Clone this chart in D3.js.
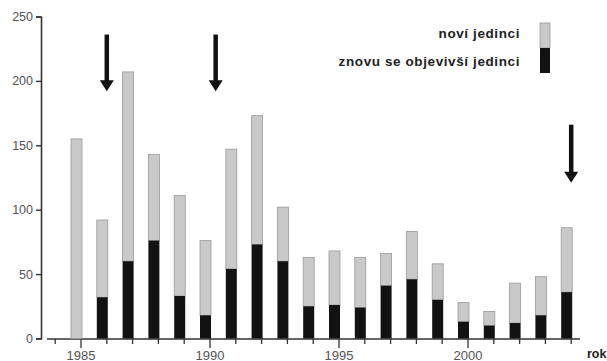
<!DOCTYPE html>
<html>
<head>
<meta charset="utf-8">
<script src="https://cdn.jsdelivr.net/npm/d3@7"></script>
<style>
  body { margin: 0; background: #fff; }
  svg { font-family: "Liberation Sans", Arial, sans-serif; }
</style>
</head>
<body>
<div id="chart"></div>
<script>
/**
 * DATA
 * */
const years = d3.range(1985, 2005);
// total height of each bar (new + returning)
const totals = [155, 92, 207, 143, 111, 76, 147, 173, 102, 63, 68, 63, 66, 83, 58, 28, 21, 43, 48, 86];
// returning individuals (black part)
const returning = [0, 32, 60, 76, 33, 18, 54, 73, 60, 25, 26, 24, 41, 46, 30, 13, 10, 12, 18, 36];
const yTicks = [0, 50, 100, 150, 200, 250];
const xTickLabels = [1985, 1990, 1995, 2000];
const legendLabels = ["noví jedinci", "znovu se objevivší jedinci"];
const axisTitle = "rok";
// arrows: year, start value, tip value
const arrows = [
  { year: 1986, from: 236, to: 192 },
  { year: 1990.22, from: 236, to: 192 },
  { year: 2004, from: 166, to: 121 }
];

const width = 607, height = 361;
const colors = { fresh: "#c9c9c9", back: "#121212", text: "#555" };

const svg = d3.select("#chart").append("svg")
  .attr("width", width)
  .attr("height", height);

const x = d3.scaleLinear().domain([1984, 2004]).range([55.2, 571.2]);
const y = d3.scaleLinear().domain([0, 250]).range([338.5, 16.5]);

// y axis
const yAxis = svg.append("g")
  .attr("transform", "translate(41,0)")
  .call(d3.axisLeft(y).tickValues(yTicks).tickSize(5).tickPadding(3));
yAxis.select(".domain").attr("stroke", "#333").attr("stroke-width", 1.6);
yAxis.selectAll(".tick line").attr("stroke", "#333").attr("stroke-width", 1.4);
yAxis.selectAll(".tick text").attr("fill", colors.text).attr("font-size", 12.5);

// x axis: minor ticks each year, longer ones every 5 years
const xg = svg.append("g").attr("transform", "translate(0,339)");
xg.append("line")
  .attr("x1", 47).attr("x2", 580)
  .attr("stroke", "#333").attr("stroke-width", 1.6);
xg.selectAll("line.tk")
  .data(d3.range(1984, 2005))
  .join("line")
  .attr("class", "tk")
  .attr("x1", d => x(d)).attr("x2", d => x(d))
  .attr("y1", 0)
  .attr("y2", d => d % 5 === 0 ? 9 : 5)
  .attr("stroke", "#333").attr("stroke-width", 1.3);
xg.selectAll("text")
  .data(xTickLabels)
  .join("text")
  .attr("x", d => x(d))
  .attr("y", 20.5)
  .attr("text-anchor", "middle")
  .attr("font-size", 13)
  .attr("fill", colors.text)
  .text(d => d);

svg.append("text")
  .attr("x", 587).attr("y", 358)
  .attr("font-size", 12.5).attr("font-weight", "bold")
  .attr("fill", "#222")
  .text(axisTitle);

// bars
const rows = years.map((yr, i) => ({ year: yr, total: totals[i], back: returning[i] }));
const barW = 11;

svg.selectAll("rect.fresh")
  .data(rows)
  .join("rect")
  .attr("class", "fresh")
  .attr("x", d => x(d.year) - 10)
  .attr("width", barW)
  .attr("y", d => y(d.total))
  .attr("height", d => y(d.back) - y(d.total))
  .attr("fill", colors.fresh)
  .attr("stroke", "#9a9a9a")
  .attr("stroke-width", 0.8);

svg.selectAll("rect.back")
  .data(rows.filter(d => d.back > 0))
  .join("rect")
  .attr("class", "back")
  .attr("x", d => x(d.year) - 10)
  .attr("width", barW)
  .attr("y", d => y(d.back))
  .attr("height", d => y(0) - y(d.back))
  .attr("fill", colors.back);

// arrows
const ag = svg.selectAll("g.arrow")
  .data(arrows)
  .join("g")
  .attr("class", "arrow");
ag.append("line")
  .attr("x1", d => x(d.year)).attr("x2", d => x(d.year))
  .attr("y1", d => y(d.from)).attr("y2", d => y(d.to) - 8)
  .attr("stroke", "#111").attr("stroke-width", 4.5);
ag.append("path")
  .attr("d", d => {
    const cx = x(d.year), ty = y(d.to);
    return `M${cx - 7},${ty - 11}L${cx + 7},${ty - 11}L${cx},${ty}Z`;
  })
  .attr("fill", "#111");

// legend
const lg = svg.append("g");
lg.selectAll("text")
  .data(legendLabels)
  .join("text")
  .attr("x", 520)
  .attr("y", (d, i) => 38 + i * 28)
  .attr("text-anchor", "end")
  .attr("font-size", 13.5)
  .attr("font-weight", "bold")
  .attr("letter-spacing", 0.6)
  .attr("fill", "#222")
  .text(d => d);
lg.append("rect")
  .attr("x", 540).attr("y", 23).attr("width", 10).attr("height", 25)
  .attr("fill", colors.fresh).attr("stroke", "#9a9a9a").attr("stroke-width", 0.8);
lg.append("rect")
  .attr("x", 540).attr("y", 48).attr("width", 10).attr("height", 25)
  .attr("fill", colors.back);
</script>
</body>
</html>
